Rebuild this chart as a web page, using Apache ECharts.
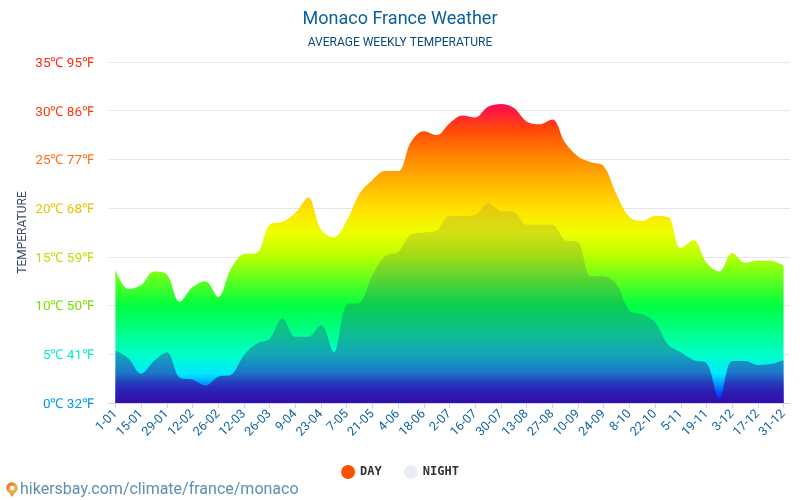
<!DOCTYPE html>
<html><head><meta charset="utf-8">
<style>html,body{margin:0;padding:0;background:#fff}#c{width:800px;height:500px}</style>
<script src="https://cdn.jsdelivr.net/npm/echarts@6/dist/echarts.min.js"></script>
</head><body><div id="c"></div>
<script>
const tickLabels = ['1-01','15-01','29-01','12-02','26-02','12-03','26-03','9-04','23-04','7-05','21-05','4-06','18-06','2-07','16-07','30-07','13-08','27-08','10-09','24-09','8-10','22-10','5-11','19-11','3-12','17-12','31-12'];
const dayValues = [13.7,11.7,12.1,13.5,13.2,10.4,11.9,12.5,10.9,13.8,15.3,15.4,18.3,18.6,19.5,21.1,17.8,17.0,18.7,21.5,22.9,23.8,23.8,26.8,27.9,27.5,28.7,29.5,29.3,30.4,30.7,30.3,28.9,28.6,29.1,26.7,25.3,24.7,24.3,21.4,19.1,18.7,19.2,19.1,15.9,16.7,14.4,13.5,15.4,14.4,14.6,14.6,14.1];
const nightValues = [5.4,4.6,3.0,4.3,5.2,2.6,2.4,1.8,2.7,2.9,4.9,6.1,6.6,8.7,6.8,6.8,8.0,5.2,10.1,10.3,13.1,15.1,15.5,17.3,17.5,17.7,19.2,19.2,19.3,20.5,19.7,19.6,18.3,18.3,18.3,16.7,16.5,13.0,13.0,12.2,9.5,9.1,8.3,6.0,5.2,4.4,4.1,0.4,4.3,4.3,3.9,4.0,4.4];
const yTicks = {0:['0℃ 32℉','#0099ee'],5:['5℃ 41℉','#00eecc'],10:['10℃ 50℉','#77e000'],15:['15℃ 59℉','#b8e000'],20:['20℃ 68℉','#f0c000'],25:['25℃ 77℉','#ff7010'],30:['30℃ 86℉','#ff3a10'],35:['35℃ 95℉','#ff2a10']};
const font = 'Roboto';
const dayGrad = {type:'linear',global:true,x:0,y:403,x2:0,y2:62,colorStops:[
 {offset:0,color:'#2000ff'},{offset:0.03,color:'#0050ff'},{offset:0.085,color:'#00e8ff'},{offset:0.143,color:'#00ffc8'},
 {offset:0.286,color:'#00ff40'},{offset:0.43,color:'#b8ff00'},{offset:0.5,color:'#eeff00'},{offset:0.571,color:'#ffe000'},
 {offset:0.714,color:'#ff8c00'},{offset:0.8,color:'#ff4a08'},{offset:0.87,color:'#ff0c50'},{offset:1,color:'#ff0080'}]};
const nightGrad = {type:'linear',global:true,x:0,y:403,x2:0,y2:62,colorStops:[
 {offset:0,color:'rgba(50,15,170,1)'},{offset:0.05,color:'rgba(48,30,170,0.84)'},{offset:0.09,color:'rgba(45,45,165,0.6)'},{offset:0.143,color:'rgba(45,45,160,0.42)'},
 {offset:0.2,color:'rgba(50,35,150,0.3)'},{offset:0.286,color:'rgba(50,30,140,0.22)'},{offset:0.57,color:'rgba(60,60,120,0.13)'},{offset:1,color:'rgba(60,60,120,0.1)'}]};
const toPairs = a => a.map((v,i)=>[i,v]);
const tickPos = tickLabels.map((_,i)=>i*2);
const chart = echarts.init(document.getElementById('c'),null,{renderer:'canvas'});
chart.setOption({
 animation:false,
 title:{text:'Monaco France Weather',subtext:'AVERAGE WEEKLY TEMPERATURE',left:'center',top:5,itemGap:9,
  textStyle:{fontFamily:font,fontSize:18,fontWeight:'normal',color:'#0b5f9c'},
  subtextStyle:{fontFamily:font,fontSize:12,color:'#0b4a80'}},
 legend:{left:'center',top:460,itemWidth:14,itemHeight:14,itemGap:22,icon:'circle',
  data:['DAY','NIGHT'],textStyle:{fontFamily:'DejaVu Sans Mono',fontSize:12,fontWeight:'bold',color:'#333'}},
 grid:{left:109,right:10,top:62,bottom:97},
 xAxis:{type:'value',min:-0.5,max:52.5,
  axisLine:{show:true,onZero:false,lineStyle:{color:'#ccd6eb',width:1}},
  axisTick:{show:true,length:5,customValues:tickPos,lineStyle:{color:'#ccd6eb'}},
  axisLabel:{customValues:tickPos,rotate:45,margin:9,fontFamily:font,fontSize:12.5,color:'#13659f',hideOverlap:false,
   formatter:v=>tickLabels[Math.round(v/2)]},
  splitLine:{show:false}},
 yAxis:{type:'value',min:0,max:35,interval:5,name:'TEMPERATURE',nameLocation:'middle',nameGap:80,nameRotate:90,nameMoveOverlap:false,
  nameTextStyle:{fontFamily:font,fontSize:12,color:'#3d4a6b'},
  axisLine:{show:false},axisTick:{show:false},
  axisLabel:{margin:15,verticalAlign:'top',lineHeight:3,fontFamily:font,fontSize:13.5,formatter:v=>yTicks[v][0],color:v=>yTicks[v][1]},
  splitLine:{show:true,lineStyle:{color:'#e6e6e6',width:1}}},
 series:[
  {name:'DAY',type:'line',data:toPairs(dayValues),smooth:0.35,showSymbol:false,
   itemStyle:{color:'#ff5000'},lineStyle:{width:0},areaStyle:{color:dayGrad,opacity:1},z:2},
  {name:'NIGHT',type:'line',data:toPairs(nightValues),smooth:0.35,showSymbol:false,
   itemStyle:{color:'#e8edf3'},lineStyle:{width:0},areaStyle:{color:nightGrad,opacity:1},z:3}
 ],
 graphic:{elements:[
  {type:'text',x:20,y:482,style:{text:'hikersbay.com/climate/france/monaco',fontFamily:font,fontSize:16,fill:'#5e8fb0'}},
  {type:'polygon',shape:{points:[[7.4,490],[16.6,490],[12,497]]},style:{fill:'#e8903a'}},
  {type:'circle',shape:{cx:12,cy:488,r:5.8},style:{fill:{type:'linear',x:0,y:0,x2:1,y2:1,colorStops:[{offset:0,color:'#ef4f45'},{offset:0.6,color:'#f3b13c'},{offset:1,color:'#8cc46a'}]}}},
  {type:'circle',shape:{cx:12,cy:488,r:2.3},style:{fill:'#fff'}}
 ]}
});
</script></body></html>
